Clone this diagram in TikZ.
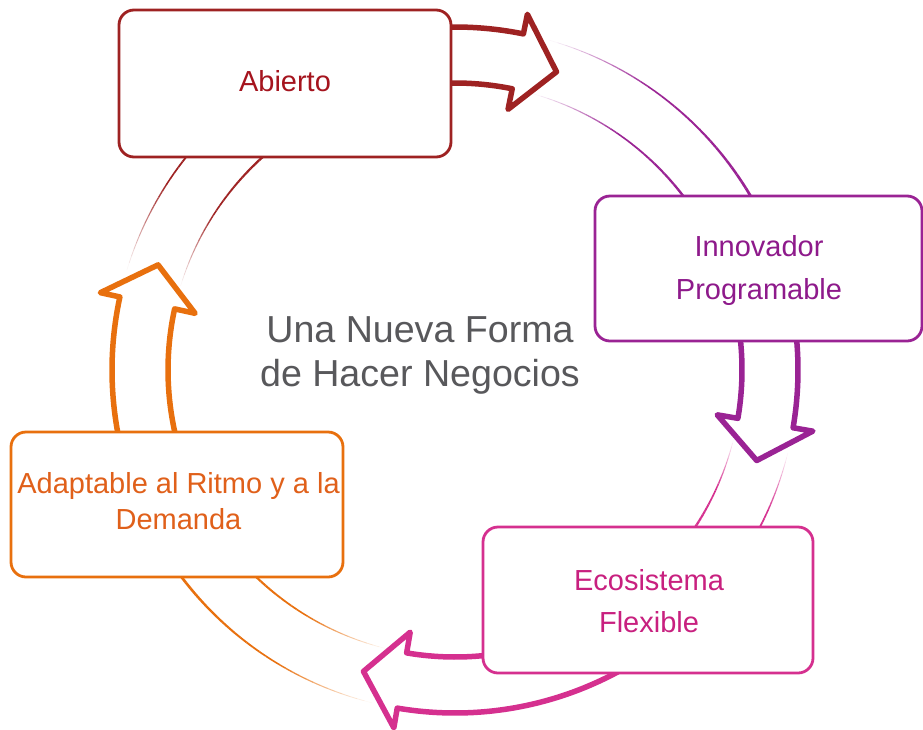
\documentclass[tikz,border=0pt]{standalone}
\usepackage{fontspec}
\setmainfont{Liberation Sans}
\definecolor{cred}{HTML}{9E2222}
\definecolor{cpurple}{HTML}{9A2394}
\definecolor{cmag}{HTML}{D5308F}
\definecolor{corange}{HTML}{E8700E}
\definecolor{tred}{HTML}{A5141E}
\definecolor{tpurple}{HTML}{8E1A8B}
\definecolor{tmag}{HTML}{C8207F}
\definecolor{torange}{HTML}{E0601A}
\definecolor{tgray}{HTML}{58585B}
\tikzset{
  cbox/.style={draw=#1, line width=2.8pt, rounded corners=15pt, fill=white,
    inner sep=0pt, outer sep=0pt},
  ctext/.style={text=#1, align=center, inner sep=0pt},
  headline/.style={draw=#1, line width=5.5pt, fill=white, line join=round},
}
% faded tail of a circular arrow: colour, tail angle, end angle of the ramp
\newcommand\arrowtail[3]{%
  \foreach \k in {0,...,39}{%
    \pgfmathsetmacro\angA{#2-(#2-(#3))*\k/40}%
    \pgfmathsetmacro\angB{#2-(#2-(#3))*(\k+1)/40}%
    \pgfmathsetmacro\tpar{(\k+0.5)/40}%
    \pgfmathsetmacro\wid{0.6+2.8*\tpar}%
    \pgfmathsetmacro\opa{min(1,3*\tpar)}%
    \draw[#1, line width=\wid pt, draw opacity=\opa]
      (\angA:343) arc[start angle=\angA, end angle=\angB, radius=343];
    \draw[#1, line width=\wid pt, draw opacity=\opa]
      (\angA:287) arc[start angle=\angA, end angle=\angB, radius=287];
  }}
% thick part with head: colour, start angle, neck angle, tip angle
\newcommand\arrowhead[4]{%
  \draw[headline=#1] (#2:343) arc[start angle=#2, end angle=#3, radius=343]
    -- (#3:363) -- (#4:315) -- (#3:266) -- (#3:287)
    arc[start angle=#3, end angle=#2, radius=287] -- cycle;}
\begin{document}
\begin{tikzpicture}[x=1pt,y=-1pt]
\useasboundingbox (0,0) rectangle (923,729);
\coordinate (C) at (455,370);
\begin{scope}[shift={(C)}, yscale=-1]
  \arrowtail{cred}{163}{115}
  \arrowtail{cpurple}{74}{18}
  \arrowtail{cmag}{-14}{-45}
  \arrowtail{corange}{256}{204}
  \arrowhead{cred}{115}{78.5}{71.2}
  \arrowhead{cpurple}{18}{-9.7}{-16.7}
  \arrowhead{cmag}{-45}{-99.7}{-106.9}
  \arrowhead{corange}{204}{167.7}{160.5}
\end{scope}
% boxes
\node[cbox=cred, minimum width=332pt, minimum height=147pt] (abierto) at (285,83.5) {};
\node[cbox=cpurple, minimum width=327pt, minimum height=145pt] (innovador) at (758.5,268.5) {};
\node[cbox=cmag, minimum width=330pt, minimum height=146pt] (ecosistema) at (648,600) {};
\node[cbox=corange, minimum width=332pt, minimum height=145pt] (adaptable) at (177,504.5) {};
% texts
\node[ctext=tred, font=\fontsize{29}{42.6}\selectfont] (tabierto) at (285,81.2) {Abierto};
\node[ctext=tpurple, font=\fontsize{29}{42.6}\selectfont] (tinnovador) at (759,270.5) {Innovador\\Programable};
\node[ctext=tmag, font=\fontsize{29}{42}\selectfont] (tecosistema) at (649,601.3) {Ecosistema\\Flexible};
\node[ctext=torange, font=\fontsize{29}{35.3}\selectfont] (tadaptable) at (178.5,501.1) {Adaptable al Ritmo y a la\\Demanda};
\node[ctext=tgray, font=\fontsize{37.6}{44}\selectfont] (tcenter) at (420,355.5) {Una Nueva Forma\\de Hacer Negocios};
\end{tikzpicture}
\end{document}
